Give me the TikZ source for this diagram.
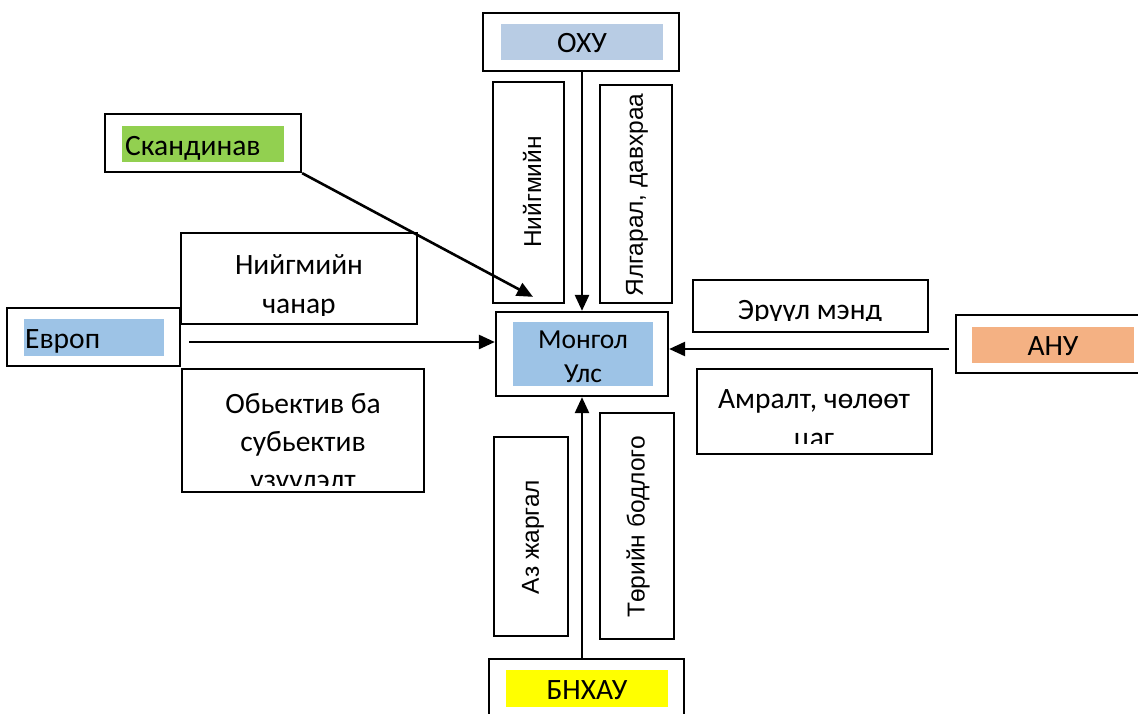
\documentclass[tikz,border=0pt]{standalone}
\usepackage{fontspec}
\setmainfont{Carlito}
\newfontfamily\arialf{Liberation Sans}
\usetikzlibrary{arrows.meta}
\definecolor{ohuC}{HTML}{B8CCE4}
\definecolor{blueC}{HTML}{9DC3E6}
\definecolor{greenC}{HTML}{92D050}
\definecolor{orangeC}{HTML}{F4B183}
\definecolor{yellowC}{HTML}{FFFF00}
\tikzset{
  box/.style={draw=black, line width=2.3pt, inner sep=0pt, fill=white},
  fillbox/.style={draw=none, inner sep=0pt},
  lbl/.style={anchor=base, inner sep=0pt, font=\fontsize{29.5}{38}\selectfont},
  mlbl/.style={anchor=base, inner sep=0pt, font=\fontsize{27.5}{35}\selectfont},
  vtxt/.style={rotate=90, inner sep=0pt, font=\arialf\fontsize{24.5}{30}\selectfont},
  arr/.style={line width=2.6pt, -{Triangle[length=16pt,width=14pt]}},
}
\begin{document}
\begin{tikzpicture}[x=1pt,y=-1pt]
\useasboundingbox (0,0) rectangle (1138,713);
\clip (0,0) rectangle (1138,713);
\fill[white] (0,0) rectangle (1138,713);

% ---- boxes ----
\node[box, minimum width=196pt, minimum height=58pt] (ohu) at (581,42) {};
\node[fillbox, fill=ohuC, minimum width=162pt, minimum height=36pt] (ohuF) at (582,42) {};
\node[lbl] (ohuT) at (582,52) {ОХУ};

\node[box, minimum width=196pt, minimum height=58pt] (skand) at (203,143) {};
\node[fillbox, fill=greenC, minimum width=162pt, minimum height=36pt] (skandF) at (203,144) {};
\node[lbl, anchor=base west] (skandT) at (125,155) {Скандинав};

\node[box, minimum width=236pt, minimum height=91pt] (nchanar) at (299,278.5) {};
\node[box, minimum width=173pt, minimum height=58pt] (evrop) at (93.5,337) {};
\node[fillbox, fill=blueC, minimum width=140pt, minimum height=37pt] (evropF) at (94,337.5) {};
\node[lbl, anchor=base west] (evropT) at (25,348) {Европ};

\node[box, minimum width=242pt, minimum height=123pt] (obekt) at (303,430.5) {};

\node[box, minimum width=172pt, minimum height=84pt] (mongol) at (582,354) {};
\node[fillbox, fill=blueC, minimum width=140pt, minimum height=64pt] (mongolF) at (583,354) {};
\node[mlbl] (mongolT1) at (583,348) {Монгол};
\node[mlbl] (mongolT2) at (583,382) {Улс};

\node[box, minimum width=71pt, minimum height=221pt] (niigv) at (528.5,192.5) {};
\node[vtxt] (niigvT) at (532,192) {Нийгмийн};
\node[box, minimum width=72pt, minimum height=218pt] (ylgar) at (636,194) {};
\node[vtxt] (ylgarT) at (637,195) {Ялгарал, давхраа};

\node[box, minimum width=235pt, minimum height=52pt] (eruul) at (810.5,306) {};
\node[box, minimum width=189pt, minimum height=58pt] (anu) at (1050.5,344) {};
\node[fillbox, fill=orangeC, minimum width=162pt, minimum height=36pt] (anuF) at (1053,345) {};
\node[lbl] (anuT) at (1053,355) {АНУ};

\node[box, minimum width=235pt, minimum height=85pt] (amralt) at (814.5,411.5) {};

\node[box, minimum width=74pt, minimum height=199pt] (azj) at (531,536.5) {};
\node[vtxt] (azjT) at (533,537) {Аз жаргал};
\node[box, minimum width=74pt, minimum height=226pt] (tor) at (637,526) {};
\node[vtxt] (torT) at (638,527) {Төрийн бодлого};

\node[box, minimum width=195pt, minimum height=66pt] (bnh) at (586.5,692) {};
\node[fillbox, fill=yellowC, minimum width=162pt, minimum height=37pt] (bnhF) at (587,688.5) {};
\node[lbl] (bnhT) at (587,699) {БНХАУ};

% ---- clipped multi-line texts ----
\begin{scope}
\clip ([shift={(3,3)}]nchanar.north west) rectangle ([shift={(-3,-10)}]nchanar.south east);
\node[lbl] (nchanarT1) at (299,274) {Нийгмийн};
\node[lbl] (nchanarT2) at (299,313) {чанар};
\end{scope}
\begin{scope}
\clip ([shift={(3,3)}]obekt.north west) rectangle ([shift={(-3,-8)}]obekt.south east);
\node[lbl] (obektT1) at (303,413) {Обьектив ба};
\node[lbl] (obektT2) at (303,451) {субьектив};
\node[lbl] (obektT3) at (303,489) {үзүүлэлт};
\end{scope}
\begin{scope}
\clip ([shift={(3,3)}]eruul.north west) rectangle ([shift={(-3,-12.5)}]eruul.south east);
\node[lbl] (eruulT) at (810,319) {Эрүүл мэнд};
\end{scope}
\begin{scope}
\clip ([shift={(3,3)}]amralt.north west) rectangle ([shift={(-3,-12)}]amralt.south east);
\node[lbl] (amraltT1) at (814,408) {Амралт, чөлөөт};
\node[lbl] (amraltT2) at (814,447) {цаг};
\end{scope}

% ---- connectors ----
\draw[arr] (ohu.south -| mongol.north) -- (mongol.north);
\draw[arr] (skand.south east) -- ([shift={(-49,-14)}]mongol.north);
\draw[arr] ([xshift=8pt,yshift=-5pt]evrop.east) -- ([yshift=-5pt]evrop.east -| mongol.west);
\draw[arr] ([xshift=-6pt,yshift=-5pt]anu.west) -- ([yshift=-5pt]anu.west -| mongol.east);
\draw[arr] (bnh.north -| mongol.south) -- (mongol.south);
\end{tikzpicture}
\end{document}
